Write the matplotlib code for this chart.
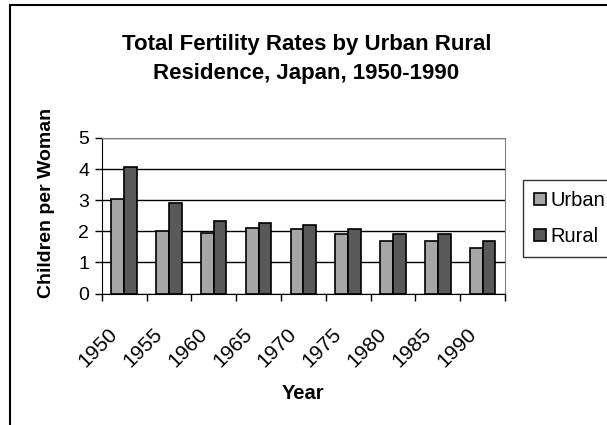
import numpy as np
import matplotlib
matplotlib.use('Agg')
import matplotlib.pyplot as plt
from matplotlib.patches import Rectangle

plt.rcParams['font.family'] = ['Liberation Sans', 'DejaVu Sans']

years = ['1950', '1955', '1960', '1965', '1970', '1975', '1980', '1985', '1990']
urban = [3.05, 2.0, 1.96, 2.1, 2.06, 1.9, 1.69, 1.69, 1.47]
rural = [4.06, 2.9, 2.33, 2.26, 2.2, 2.06, 1.9, 1.9, 1.69]

fig = plt.figure(figsize=(6.07, 4.25), dpi=100)
W, H = 607, 425
ax = fig.add_axes([101.7 / W, 1 - 293.5 / H, (505 - 101.7) / W, (293.5 - 138) / H])

x = np.arange(len(years))
bw = 0.285
ax.bar(x - bw / 2, urban, bw, color='#a6a6a6', edgecolor='black', linewidth=1.2,
       label='Urban', zorder=3)
ax.bar(x + bw / 2, rural, bw, color='#595959', edgecolor='black', linewidth=1.2,
       label='Rural', zorder=3)

ax.set_xlim(-0.5, len(years) - 0.5)
ax.set_ylim(0, 5)
ax.set_yticks(range(6))
ax.yaxis.grid(True, color='black', linewidth=1, zorder=0)
ax.set_axisbelow(True)

# ticks at category boundaries, rotated labels on invisible minor ticks
# (placed a little left of centre, as the Excel layout does)
ax.set_xticks(np.arange(len(years) + 1) - 0.5)
ax.set_xticklabels([])
ax.set_xticks(x - 0.36, minor=True)
ax.set_xticklabels(years, minor=True, rotation=45, ha='right', va='top',
                   rotation_mode='anchor', fontsize=15)
ax.tick_params(axis='x', which='minor', length=0, pad=22)
ax.tick_params(axis='x', which='major', length=5, direction='out', width=1)
ax.tick_params(axis='y', length=5, direction='out', width=1, labelsize=14, pad=4)

for s in ['top', 'right']:
    ax.spines[s].set_color('#808080')
ax.spines['left'].set_color('black')
ax.spines['bottom'].set_color('black')

ax.set_ylabel('Children per Woman', fontsize=14, fontweight='bold')
ax.yaxis.set_label_coords(-0.115, 0.58)
ax.set_xlabel('Year', fontsize=14.5, fontweight='bold', labelpad=10)

fig.text(0.505, 1 - 59 / H, 'Total Fertility Rates by Urban Rural\nResidence, Japan, 1950-1990',
         ha='center', va='center', fontsize=16, fontweight='bold', linespacing=1.45)

leg = fig.legend(loc='upper left', bbox_to_anchor=(523 / W, 1 - 180 / H),
                 fontsize=14.5, frameon=True, fancybox=False, edgecolor='black',
                 handlelength=0.6, handleheight=0.6, handletextpad=0.2,
                 borderpad=0.55, labelspacing=0.85, borderaxespad=0)
leg.get_frame().set_linewidth(1)

fig.patches.append(Rectangle((10 / W, -0.1), 1.2, 1 - 5 / H + 0.1, transform=fig.transFigure,
                             fill=False, edgecolor='black', linewidth=1.5))

fig.savefig('out.png', dpi=100)
